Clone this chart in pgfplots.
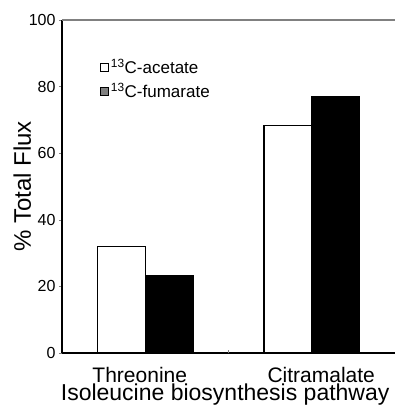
\documentclass[border=0pt]{standalone}
\usepackage{pgfplots}
\pgfplotsset{compat=1.18}
\usepackage{fontspec}
\setmainfont{Liberation Sans}
\begin{document}
\begin{tikzpicture}
\begin{axis}[
  at={(0,0)}, anchor=south west,
  scale only axis, width=333pt, height=333pt,
  xmin=-0.5, xmax=1.5, ymin=0, ymax=100,
  axis x line*=bottom, axis y line*=left,
  axis line style={line width=1.1pt},
  ytick={0,20,40,60,80,100},
  ytick style={line width=0.6pt},
  tick align=outside, major tick length=3pt,
  xtick={-0.033,1.057}, xticklabels={Threonine, Citramalate},
  x tick style={draw=none},
  extra x ticks={0.5}, extra x tick labels={},
  extra x tick style={tick align=inside, x tick style={draw=gray, line width=0.6pt}},
  xticklabel style={font=\fontsize{21}{24}\selectfont, anchor=base, yshift=-26pt},
  yticklabel style={font=\fontsize{16}{18}\selectfont},
  /pgf/number format/assume math mode=true,
  ylabel={\% Total Flux},
  ylabel style={font=\fontsize{24}{28}\selectfont, at={(axis description cs:-0.119,0.5)}, anchor=center},
  xlabel={Isoleucine biosynthesis pathway},
  xlabel style={font=\fontsize{23}{27}\selectfont, at={(axis description cs:0.49,0)}, anchor=base, yshift=-47pt},
  ybar, bar width=0.287,
  legend style={at={(axis description cs:0.105,0.895)}, anchor=north west, draw=none, fill=none,
    font=\fontsize{17}{19}\selectfont, row sep=4pt,
    legend cell align=left},
  legend image code/.code={\draw[#1, line width=0.8pt] (0pt,-4pt) rectangle (8pt,4pt);},
]
\addplot[draw=black, fill=white, line width=1.1pt, bar shift=-0.1435, forget plot] coordinates {(0,32) (1,68.2)};
\addplot[draw=black, fill=black, line width=1.1pt, bar shift=0.1435, forget plot] coordinates {(0,23.2) (1,76.9)};
\addlegendimage{draw=black, fill=white}
\addlegendentry{\textsuperscript{13}C-acetate}
\addlegendimage{draw=black, fill=gray}
\addlegendentry{\textsuperscript{13}C-fumarate}
\draw[gray, line width=1.1pt] (rel axis cs:0,1) -- (rel axis cs:1,1);
\draw[gray!60, line width=0.8pt] (rel axis cs:1,0) -- (rel axis cs:1,1);
\end{axis}
\pgfresetboundingbox
\path (-62pt,-54pt) rectangle (333pt,353pt);
\end{tikzpicture}
\end{document}
